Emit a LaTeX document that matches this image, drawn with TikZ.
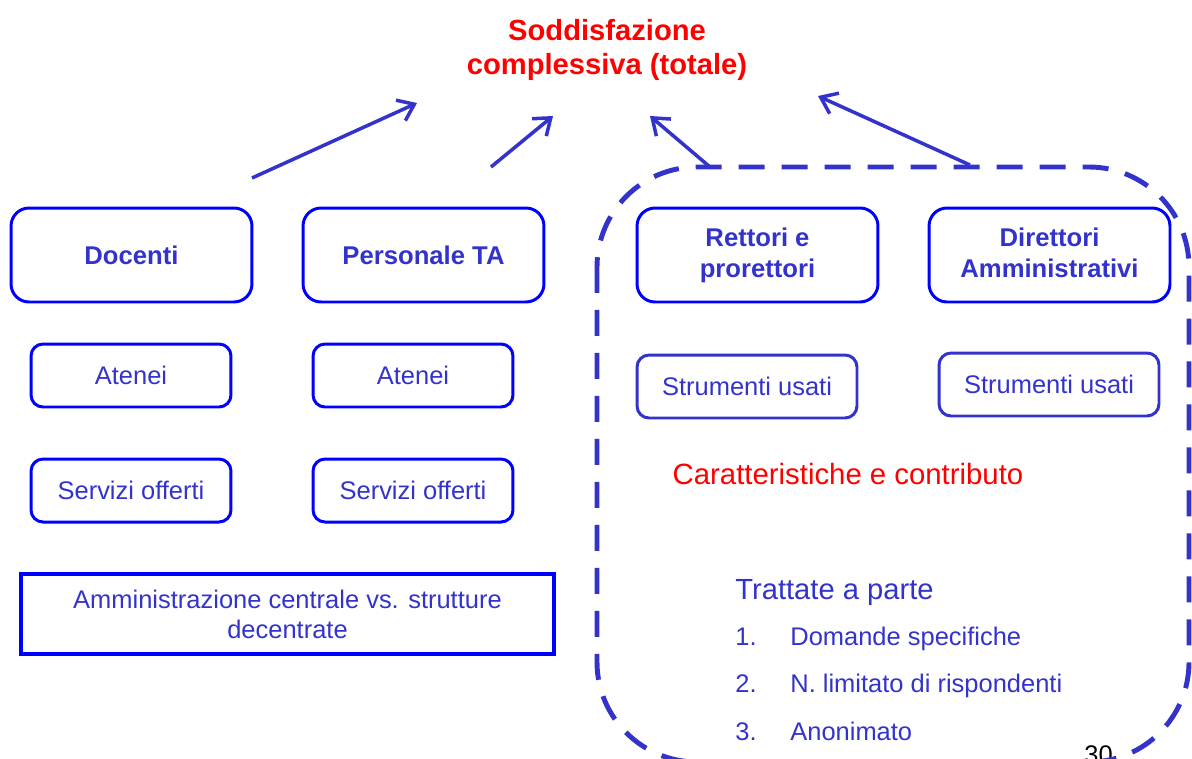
\documentclass[tikz,border=0pt]{standalone}
\usepackage{fontspec}
\setmainfont{Liberation Sans}
\usetikzlibrary{arrows.meta}
\definecolor{txtblue}{RGB}{51,51,204}
\definecolor{boxblue}{RGB}{0,0,255}

\begin{document}
\begin{tikzpicture}[x=0.02cm, y=-0.02cm]
        \tikzstyle{every node}=[text=txtblue, inner sep=0pt]
        \tikzstyle{grp}=[draw=boxblue, line width=1.7pt, rounded corners=0.36cm, minimum width=4.82cm, minimum height=1.88cm, align=center, font=\fontsize{14.6}{17.6}\selectfont\bfseries]
        \tikzstyle{sub}=[draw=boxblue, line width=1.7pt, rounded corners=0.24cm, minimum width=4cm, minimum height=1.26cm, font=\fontsize{14.5}{17}\selectfont]
        \tikzstyle{tool}=[sub, draw=txtblue, minimum width=4.4cm]
        \tikzstyle{item}=[anchor=base west, font=\fontsize{14.5}{17}\selectfont]
        \tikzstyle{link}=[color=txtblue, line width=2pt, -{Straight Barb[length=0.3cm, width=0.45cm]}]

        \useasboundingbox (0,0) rectangle (1192,758);

        \node (tot)  at (607,50) [text=red, align=center, font=\fontsize{16.6}{19.3}\selectfont\bfseries] {Soddisfazione\\complessiva (totale)};

        \node (doc)  at (131.5,255) [grp] {Docenti};
        \node (pta)  at (423.5,255) [grp] {Personale TA};
        \node (ret)  at (757.5,255) [grp, text depth=0.1cm] {Rettori e\\prorettori};
        \node (dir)  at (1049.5,255) [grp, text depth=0.1cm] {Direttori\\Amministrativi};

        \node (at1)  at (131,375.5) [sub] {Atenei};
        \node (at2)  at (413,375.5) [sub] {Atenei};
        \node (sv1)  at (131,490.5) [sub] {Servizi offerti};
        \node (sv2)  at (413,490.5) [sub] {Servizi offerti};

        \node (st1)  at (747,386.5) [tool] {Strumenti usati};
        \node (st2)  at (1049,384.5) [tool] {Strumenti usati};

        \node (amm)  at (287.5,614) [draw=boxblue, line width=2.3pt, minimum width=10.66cm, minimum height=1.6cm, align=center, font=\fontsize{14.5}{17}\selectfont] {Amministrazione centrale vs. strutture\\decentrate};

        \node (car)  at (848,484) [anchor=base, text=red, font=\fontsize{16.7}{20}\selectfont] {Caratteristiche e contributo};
        \node (tap)  at (735,599) [anchor=base west, font=\fontsize{16.6}{20}\selectfont] {Trattate a parte};
        \node (n1)   at (735,645) [item] {1.};
        \node (i1)   at (790,645) [item] {Domande specifiche};
        \node (n2)   at (735,692) [item] {2.};
        \node (i2)   at (790,692) [item] {N. limitato di rispondenti};
        \node (n3)   at (735,740) [item] {3.};
        \node (i3)   at (790,740) [item] {Anonimato};

        \node (pg)   at (1084,763) [item, text=black] {30};

        % gruppo trattato a parte
        \draw [txtblue, line width=2.8pt, dash pattern=on 0.52cm off 0.34cm, rounded corners=2cm] (597,167) rectangle (1189,762);

        \coordinate (a1) at (252,178);
        \coordinate (h1) at (417,103);
        \coordinate (a2) at (491,167);
        \coordinate (h2) at (553,116);
        \coordinate (a3) at (710,167);
        \coordinate (h3) at (650,116);
        \coordinate (a4) at (970,165);
        \coordinate (h4) at (818,96);

        \path [link] (a1) edge (h1);
        \path [link] (a2) edge (h2);
        \path [link] (a3) edge (h3);
        \path [link] (a4) edge (h4);
    \end{tikzpicture}
\end{document}
